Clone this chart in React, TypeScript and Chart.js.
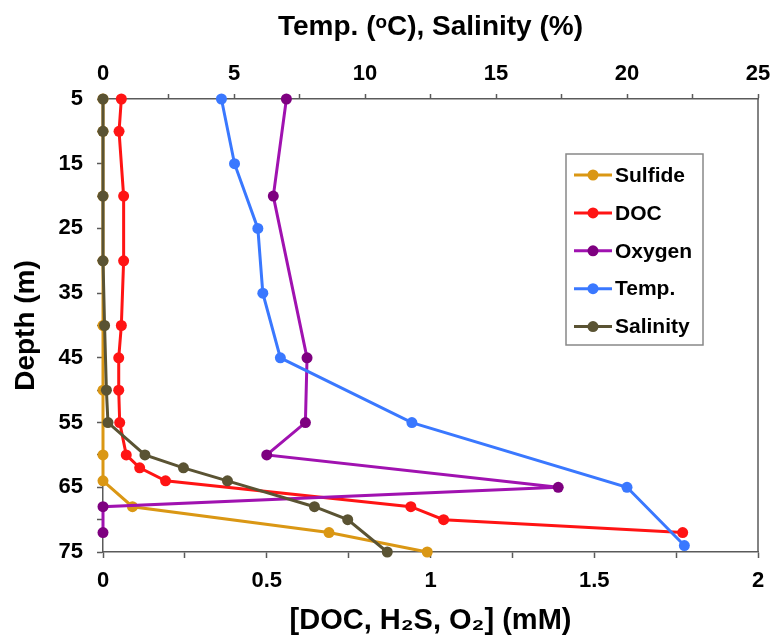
import React, { useEffect, useRef } from 'react';
import { Chart, registerables } from 'chart.js';

Chart.register(...registerables);

// ---- Data ----
const sulfideDepth = [5, 10, 20, 30, 40, 50, 60, 64, 68, 72, 75];
const sulfideValues = [0, 0, 0, 0, 0, 0, 0, 0, 0.09, 0.69, 0.99];

const docDepth = [5, 10, 20, 30, 40, 45, 50, 55, 60, 62, 64, 68, 70, 72];
const docValues = [0.056, 0.049, 0.063, 0.063, 0.056, 0.048, 0.048, 0.051, 0.071, 0.112, 0.191, 0.94, 1.04, 1.77];

const oxygenDepth = [5, 20, 45, 55, 60, 65, 68, 72];
const oxygenValues = [0.56, 0.52, 0.623, 0.618, 0.5, 1.39, 0, 0];

const tempDepth = [5, 15, 25, 35, 45, 55, 65, 74];
const tempValues = [4.52, 5.02, 5.91, 6.1, 6.77, 11.79, 20.0, 22.19];

const salinityDepth = [5, 10, 20, 30, 40, 50, 55, 60, 62, 64, 68, 70, 75];
const salinityValues = [0, 0, 0, 0, 0.06, 0.13, 0.19, 1.6, 3.07, 4.75, 8.07, 9.34, 10.85];

const seriesLabels = ['Sulfide', 'DOC', 'Oxygen', 'Temp.', 'Salinity'];
const depthTickLabels = [5, 15, 25, 35, 45, 55, 65, 75];
const concTickLabels = [0, 0.5, 1, 1.5, 2];
const tempTickLabels = [0, 5, 10, 15, 20, 25];

const FONT = "'Liberation Sans', Arial, Helvetica, sans-serif";
const AXIS_COLOR = '#5a5a5a';

const toPoints = (depths: number[], values: number[]) =>
  values.map((v, i) => ({ x: v, y: depths[i] }));

const isLabel = (list: number[], v: number) => list.some((t) => Math.abs(t - v) < 1e-6);

const framePlugin = {
  id: 'frameRight',
  beforeDatasetsDraw(chart: any) {
    const { ctx, chartArea } = chart;
    ctx.save();
    ctx.strokeStyle = AXIS_COLOR;
    ctx.lineWidth = 1.5;
    ctx.beginPath();
    ctx.moveTo(chartArea.right, chartArea.top);
    ctx.lineTo(chartArea.right, chartArea.bottom);
    ctx.stroke();
    ctx.restore();
  },
};

const boxLegendPlugin = {
  id: 'boxLegend',
  afterDatasetsDraw(chart: any) {
    const { ctx, chartArea } = chart;
    const left = chartArea.left + 463;
    const top = chartArea.top + 55;
    const w = 137;
    const h = 191;
    ctx.save();
    ctx.fillStyle = '#ffffff';
    ctx.fillRect(left, top, w, h);
    ctx.strokeStyle = '#888888';
    ctx.lineWidth = 1.5;
    ctx.strokeRect(left, top, w, h);
    const datasets = chart.data.datasets;
    datasets.forEach((ds: any, i: number) => {
      const cy = top + 21 + i * 37.9;
      const x0 = left + 8;
      const x1 = left + 46;
      ctx.strokeStyle = ds.borderColor;
      ctx.lineWidth = 3;
      ctx.beginPath();
      ctx.moveTo(x0, cy);
      ctx.lineTo(x1, cy);
      ctx.stroke();
      ctx.fillStyle = ds.pointBackgroundColor;
      ctx.beginPath();
      ctx.arc((x0 + x1) / 2, cy, 5.5, 0, Math.PI * 2);
      ctx.fill();
      ctx.fillStyle = '#000';
      ctx.font = `bold 21px ${FONT}`;
      ctx.textAlign = 'left';
      ctx.textBaseline = 'middle';
      ctx.fillText(ds.label, x1 + 3, cy + 1);
    });
    ctx.restore();
  },
};

export default function App() {
  const canvasRef = useRef<HTMLCanvasElement | null>(null);

  useEffect(() => {
    if (!canvasRef.current) return;
    const common = {
      borderWidth: 3,
      pointRadius: 5.5,
      pointHoverRadius: 5.5,
      pointBorderWidth: 0,
      tension: 0,
      clip: false as any,
      fill: false,
    };
    const chart = new Chart(canvasRef.current, {
      type: 'line',
      data: {
        datasets: [
          {
            ...common,
            label: seriesLabels[0],
            data: toPoints(sulfideDepth, sulfideValues),
            borderColor: '#DA9714',
            pointBackgroundColor: '#DA9714',
            xAxisID: 'x',
            yAxisID: 'y',
            order: 5,
          },
          {
            ...common,
            label: seriesLabels[1],
            data: toPoints(docDepth, docValues),
            borderColor: '#FF1414',
            pointBackgroundColor: '#FF1414',
            xAxisID: 'x',
            yAxisID: 'y',
            order: 4,
          },
          {
            ...common,
            label: seriesLabels[2],
            data: toPoints(oxygenDepth, oxygenValues),
            borderColor: '#A012B0',
            pointBackgroundColor: '#7E0080',
            xAxisID: 'x',
            yAxisID: 'y',
            order: 3,
          },
          {
            ...common,
            label: seriesLabels[3],
            data: toPoints(tempDepth, tempValues),
            borderColor: '#3A78FF',
            pointBackgroundColor: '#3A78FF',
            xAxisID: 'x2',
            yAxisID: 'y',
            order: 2,
          },
          {
            ...common,
            label: seriesLabels[4],
            data: toPoints(salinityDepth, salinityValues),
            borderColor: '#5A5333',
            pointBackgroundColor: '#5A5333',
            xAxisID: 'x2',
            yAxisID: 'y',
            order: 1,
          },
        ],
      },
      options: {
        animation: false,
        responsive: false,
        events: [],
        layout: { padding: { left: 0, top: 0, right: 15, bottom: 0 } },
        plugins: {
          legend: { display: false },
          tooltip: { enabled: false },
        },
        scales: {
          x: {
            type: 'linear',
            position: 'bottom',
            min: 0,
            max: 2,
            afterFit: (s: any) => {
              s.height = 89;
              s.paddingLeft = 0;
              s.paddingRight = 0;
            },
            ticks: {
              stepSize: 0.25,
              autoSkip: false,
              maxRotation: 0,
              padding: 10,
              color: '#000',
              font: { family: FONT, size: 22, weight: 'bold' },
              callback: (v: any) => (isLabel(concTickLabels, Number(v)) ? String(Number(v)) : ''),
            },
            grid: {
              drawOnChartArea: false,
              drawTicks: true,
              tickLength: 6,
              tickColor: AXIS_COLOR,
              tickWidth: 1.5,
            },
            border: { display: true, color: AXIS_COLOR, width: 1.5 },
            title: {
              display: true,
              text: '[DOC, H₂S, O₂] (mM)',
              color: '#000',
              font: { family: FONT, size: 29, weight: 'bold' },
              padding: { top: 0, bottom: 3 },
            },
          },
          x2: {
            type: 'linear',
            position: 'top',
            min: 0,
            max: 25,
            afterFit: (s: any) => {
              s.height = 99;
              s.paddingLeft = 0;
              s.paddingRight = 0;
            },
            ticks: {
              stepSize: 2.5,
              autoSkip: false,
              maxRotation: 0,
              padding: 7,
              color: '#000',
              font: { family: FONT, size: 22, weight: 'bold' },
              callback: (v: any) => (isLabel(tempTickLabels, Number(v)) ? String(Number(v)) : ''),
            },
            grid: {
              drawOnChartArea: false,
              drawTicks: true,
              tickLength: 5,
              tickColor: AXIS_COLOR,
              tickWidth: 1.5,
            },
            border: { display: true, color: AXIS_COLOR, width: 1.5 },
            title: {
              display: true,
              text: 'Temp. (ᵒC), Salinity (%)',
              color: '#000',
              font: { family: FONT, size: 28, weight: 'bold' },
              padding: { top: 10, bottom: 0 },
            },
          },
          y: {
            type: 'linear',
            position: 'left',
            reverse: true,
            min: 5,
            max: 75,
            afterFit: (s: any) => {
              s.width = 103;
              s.paddingTop = 0;
              s.paddingBottom = 0;
            },
            ticks: {
              stepSize: 5,
              autoSkip: false,
              padding: 14,
              color: '#000',
              font: { family: FONT, size: 22, weight: 'bold' },
              callback: (v: any) => (isLabel(depthTickLabels, Number(v)) ? String(Number(v)) : ''),
            },
            grid: {
              drawOnChartArea: false,
              drawTicks: true,
              tickLength: 6,
              tickColor: AXIS_COLOR,
              tickWidth: 1.5,
            },
            border: { display: true, color: AXIS_COLOR, width: 1.5 },
            title: {
              display: true,
              text: 'Depth (m)',
              color: '#000',
              font: { family: FONT, size: 28, weight: 'bold' },
              padding: { top: 9, bottom: 0 },
            },
          },
        },
      } as any,
      plugins: [framePlugin, boxLegendPlugin],
    });
    return () => chart.destroy();
  }, []);

  return (
    <div style={{ position: 'fixed', left: 0, top: 0, width: 773, height: 641, background: '#fff' }}>
      <canvas ref={canvasRef} width={773} height={641} style={{ display: 'block' }} />
    </div>
  );
}
